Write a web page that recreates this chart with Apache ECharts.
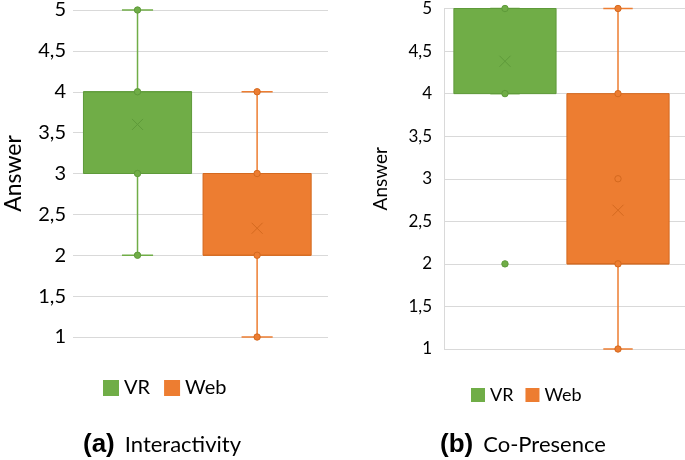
<!DOCTYPE html>
<html><head><meta charset="utf-8">
<script src="https://cdn.jsdelivr.net/npm/echarts@6/dist/echarts.min.js"></script>
<style>html,body{margin:0;padding:0;background:#fff}#c{width:685px;height:460px}</style>
</head><body><div id="c"></div>
<script>
// ---- data ----
const groups = ['VR', 'Web'];
const panelLetters = ['(a)', '(b)'];
const panelNames = ['Interactivity', 'Co-Presence'];
const yTicks = [1, 1.5, 2, 2.5, 3, 3.5, 4, 4.5, 5];
// [min, Q1, median, Q3, max]
const interVRStats = [2, 3, 4, 4, 5];
const interVRMean = 3.6;
const interVRPoints = [2, 3, 4, 5];
const interVROutliers = [];
const interWebStats = [1, 2, 2, 3, 4];
const interWebMean = 2.33;
const interWebPoints = [1, 2, 3, 4];
const interWebOutliers = [];
const coVRStats = [4, 4, 5, 5, 5];
const coVRMean = 4.38;
const coVRPoints = [4, 5];
const coVROutliers = [2];
const coWebStats = [1, 2, 2, 4, 5];
const coWebMean = 2.63;
const coWebPoints = [1, 2, 3, 4, 5];
const coWebOutliers = [];

// ---- style ----
const fill = { VR: '#70ad47', Web: '#ed7d31' };
const dark = { VR: '#5e9a3a', Web: '#d4691f' };
const offsets = { VR: -0.247, Web: 0.222 };
const boxFrac = 0.424, capFrac = 0.122;
const font = 'Lato, "Open Sans", sans-serif';

function boxRender(g) {
  return function (params, api) {
    const bw = api.size([1, 0])[0];
    const cx = api.coord([api.value(0), 0])[0] + offsets[g] * bw;
    const y = i => api.coord([api.value(0), api.value(i)])[1];
    const yMin = y(1), yQ1 = y(2), yMed = y(3), yQ3 = y(4), yMax = y(5), yMean = y(6);
    const half = bw * boxFrac / 2, cap = bw * capFrac / 2, m = 5.5;
    const ls = { stroke: fill[g], lineWidth: 1.5 };
    return {
      type: 'group', children: [
        { type: 'line', shape: { x1: cx, y1: yMin, x2: cx, y2: yQ1 }, style: ls },
        { type: 'line', shape: { x1: cx, y1: yQ3, x2: cx, y2: yMax }, style: ls },
        { type: 'line', shape: { x1: cx - cap, y1: yMin, x2: cx + cap, y2: yMin }, style: ls },
        { type: 'line', shape: { x1: cx - cap, y1: yMax, x2: cx + cap, y2: yMax }, style: ls },
        { type: 'rect', shape: { x: cx - half, y: yQ3, width: 2 * half, height: yQ1 - yQ3 },
          style: { fill: fill[g], stroke: dark[g], lineWidth: 1 } },
        { type: 'line', shape: { x1: cx - half, y1: yMed, x2: cx + half, y2: yMed },
          style: { stroke: dark[g], lineWidth: 1 } },
        { type: 'line', shape: { x1: cx - m, y1: yMean - m, x2: cx + m, y2: yMean + m },
          style: { stroke: dark[g], lineWidth: 1 } },
        { type: 'line', shape: { x1: cx - m, y1: yMean + m, x2: cx + m, y2: yMean - m },
          style: { stroke: dark[g], lineWidth: 1 } }
      ]
    };
  };
}
function pointRender(g) {
  return function (params, api) {
    const bw = api.size([1, 0])[0];
    const p = api.coord([api.value(0), api.value(1)]);
    return { type: 'circle', shape: { cx: p[0] + offsets[g] * bw, cy: p[1], r: 3.2 },
      style: { fill: fill[g], stroke: dark[g], lineWidth: 1 } };
  };
}
function boxSeries(idx, g, stats, mean) {
  return { type: 'custom', name: g, xAxisIndex: idx, yAxisIndex: idx, itemStyle: { color: fill[g] },
    renderItem: boxRender(g), clip: false, encode: { x: 0, y: [1, 2, 3, 4, 5, 6] },
    data: [[0].concat(stats, [mean])] };
}
function pointSeries(idx, g, pts) {
  return { type: 'custom', name: g, xAxisIndex: idx, yAxisIndex: idx, itemStyle: { color: fill[g] },
    renderItem: pointRender(g), clip: false, encode: { x: 0, y: 1 },
    data: pts.map(v => [0, v]) };
}
function yAxis(idx, fs, margin, nameFs, nameGap, showLine) {
  return { gridIndex: idx, type: 'value', min: yTicks[0], max: yTicks[yTicks.length - 1],
    interval: yTicks[1] - yTicks[0],
    name: 'Answer', nameLocation: 'middle', nameRotate: 90, nameGap: nameGap,
    nameTextStyle: { fontFamily: font, fontSize: nameFs, color: '#000' },
    axisLine: { show: showLine, lineStyle: { color: '#d9d9d9' } }, axisTick: { show: false },
    axisLabel: { fontFamily: font, fontSize: fs, color: '#000', margin: margin,
      formatter: v => String(v).replace('.', ',') },
    splitLine: { lineStyle: { color: '#d9d9d9', width: 1 } } };
}
function xAxis(idx) {
  return { gridIndex: idx, type: 'category', data: [''], axisLine: { show: false },
    axisTick: { show: false }, axisLabel: { show: false } };
}
const chart = echarts.init(document.getElementById('c'));
chart.setOption({
  animation: false,
  grid: [
    { left: 73, top: 10, width: 255, height: 327 },
    { left: 444, top: 6, width: 241, height: 343 }
  ],
  xAxis: [xAxis(0), xAxis(1)],
  yAxis: [yAxis(0, 20, 7, 23, 48, false), yAxis(1, 17, 12, 19, 54, true)],
  legend: [
    { data: groups, left: 103, top: 378, padding: 0, itemWidth: 16, itemHeight: 16, itemGap: 14, icon: 'rect',
      textStyle: { fontFamily: font, fontSize: 20, color: '#000' } },
    { data: groups, left: 471, top: 386, padding: 0, itemWidth: 14, itemHeight: 14, itemGap: 12, icon: 'rect',
      textStyle: { fontFamily: font, fontSize: 18, color: '#000' } }
  ],
  title: [0, 1].map(i => ({
    text: '{b|' + panelLetters[i] + '}{n|' + panelNames[i] + '}',
    left: i === 0 ? 83 : 440, top: 432, padding: 0,
    textStyle: { fontWeight: 'normal', rich: {
      b: { fontFamily: '"Liberation Sans", Arial, sans-serif', fontWeight: 'bold', fontSize: 26, color: '#000',
           padding: [0, 10, 0, 0] },
      n: { fontFamily: font, fontWeight: 'normal', fontSize: 22, color: '#000' } } }
  })),
  series: [
    boxSeries(0, 'VR', interVRStats, interVRMean),
    boxSeries(0, 'Web', interWebStats, interWebMean),
    pointSeries(0, 'VR', interVRPoints.concat(interVROutliers)),
    pointSeries(0, 'Web', interWebPoints.concat(interWebOutliers)),
    boxSeries(1, 'VR', coVRStats, coVRMean),
    boxSeries(1, 'Web', coWebStats, coWebMean),
    pointSeries(1, 'VR', coVRPoints.concat(coVROutliers)),
    pointSeries(1, 'Web', coWebPoints.concat(coWebOutliers))
  ]
});
</script></body></html>
